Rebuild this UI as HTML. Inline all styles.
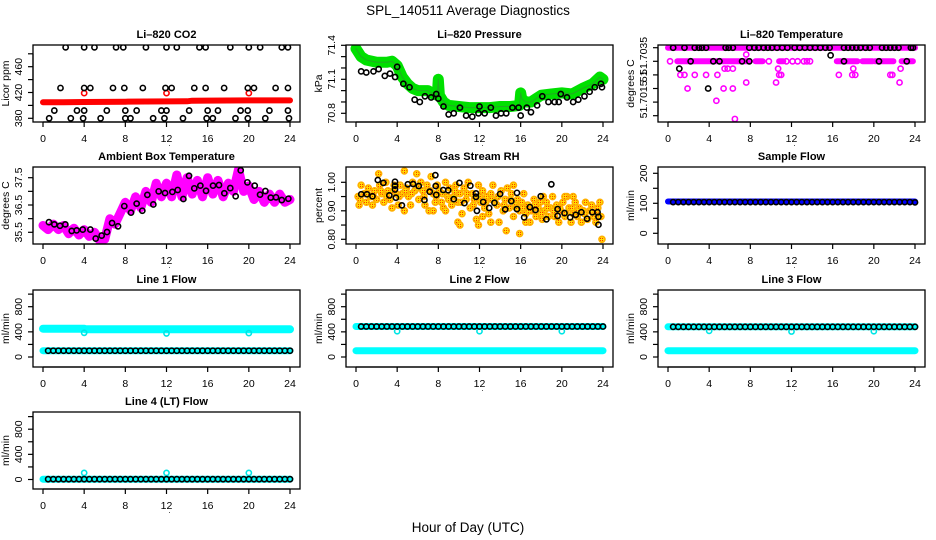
<!DOCTYPE html>
<html><head><meta charset="utf-8"><title>SPL_140511 Average Diagnostics</title>
<style>
html,body{margin:0;padding:0;background:#fff;}
svg{display:block;font-family:"Liberation Sans",Arial,sans-serif;}
</style></head>
<body>
<svg id="chart" xmlns="http://www.w3.org/2000/svg" width="936" height="540" viewBox="0 0 936 540">
<defs>
<pattern id="speckle" width="2" height="2" patternUnits="userSpaceOnUse">
<rect width="2" height="2" fill="#ffe000"/><rect width="1" height="1" fill="#ff3000"/>
</pattern>
</defs>
<rect x="0" y="0" width="936" height="540" fill="#fff"/>
<text x="468" y="15" font-size="13.5" text-anchor="middle">SPL_140511  Average Diagnostics</text>
<text x="468" y="532" font-size="13.5" text-anchor="middle">Hour of Day (UTC)</text>
</svg>
<script>
// ---------- DATA ----------
const xTicks = [0,4,8,12,16,20,24];

const co2BlackHours = [2.2,4,5,7.1,7.8,10,12,13,15.2,15.8,18.2,20,21.1,23.2,23.8,
 1.7,4,4.6,6.8,7.9,9.7,11.9,12.5,14.7,15.8,17.6,19.9,20.5,22.6,23.8,
 1.1,3.3,4,6.2,8,9.1,11.5,12,14.2,16,17,19.2,19.9,22,23.8,
 0.6,2.7,3.9,5.6,8,8.5,10.7,11.8,13.6,15.9,16.5,18.7,19.9,21.6,23.9];
const co2BlackVals = [490,490,490,490,490,490,490,490,490,490,490,490,490,490,490,
 427,427,427,427,427,427,427,427,427,427,427,427,427,427,427,
 392,392,392,392,392,392,392,392,392,392,392,392,392,392,392,
 380,380,380,380,380,380,380,380,380,380,380,380,380,380,380];
const co2RedHours = [0,2,4,6,8,10,12,14,14.5,16,18,20,22,24];
const co2RedVals = [405,405,405.3,405.5,405.8,406,406.2,406.4,407.3,407.5,407.6,407.7,407.8,407.8];
const co2OutHours = [4,12,20];
const co2OutVals = [419,419,419];

const presBandHours = [0,0.5,1,2,3,3.5,4,4.5,5,5.5,6,7,7.5,7.9,8,8.1,8.5,9,10,11,12,13,14,15,15.9,16,16.1,16.5,17,17.5,18,19,20,21,22,23,23.7,24];
const presBandVals = [71.37,71.3,71.27,71.25,71.25,71.26,71.22,71.12,71.06,71.02,71.0,71.0,70.97,70.96,71.1,70.96,70.9,70.87,70.86,70.85,70.85,70.85,70.86,70.86,70.87,70.98,70.93,70.9,70.9,70.93,70.96,70.97,70.98,70.97,71.02,71.06,71.12,71.1];
const presBlackHours = [0.5,1,1.7,2.2,2.8,3.3,3.8,4,4.6,5.2,5.7,6.2,6.7,7.3,7.8,8,8.5,9,9.5,10.1,10.7,11.3,11.9,12,12.5,13.1,13.6,14.1,14.6,15.2,15.8,16,16.6,17,17.6,18.1,18.7,19.3,19.7,19.9,20.5,21.1,21.6,22.2,22.7,23.2,23.8,23.9];
const presBlackVals = [71.17,71.16,71.17,71.19,71.13,71.15,71.12,71.21,71.06,71.03,70.92,70.9,70.95,70.94,70.97,70.93,70.86,70.79,70.8,70.85,70.78,70.77,70.8,70.86,70.8,70.85,70.78,70.8,70.8,70.85,70.85,70.78,70.85,70.81,70.87,70.95,70.9,70.9,70.9,70.97,70.94,70.9,70.92,70.95,70.99,71.03,71.06,71.03];

const tempBandStart = [0,0.9,8.5,10.8,16.4,18.9,20.1,22.7];
const tempBandEnd = [24,7.9,9.2,11.2,18.4,19.9,21.9,23.8];
const tempBandVals = [51.7035,51.7030,51.7030,51.7030,51.7030,51.7030,51.7030,51.7030];
const tempPinkHours = [0.2,9.8,11.5,12.1,12.6,13.2,13.5,13.8,7.6,1.2,1.6,2.6,3.7,4.8,5.5,5.8,6.3,1.9,5.4,6.3,7.6,4.7,6.5,10.5,10.7,10.8,11,16.6,17.9,18,18.2,21.6,21.8,22.5,22.6];
const tempPinkVals = [51.7030,51.7030,51.7030,51.7030,51.7030,51.7030,51.7030,51.7030,51.70325,51.7025,51.7025,51.7025,51.7025,51.7025,51.70273,51.70273,51.70273,51.7020,51.7020,51.7020,51.70222,51.70155,51.70088,51.70222,51.70273,51.7025,51.7025,51.7025,51.7025,51.70273,51.7025,51.7025,51.7025,51.70222,51.70273];
const tempBlackHours = [0.5,1.6,2.6,3.0,3.3,3.7,5.6,5.9,6.3,7.9,8.4,8.8,9.3,9.7,10.1,10.6,11.1,11.6,12.3,12.8,13.3,13.8,14.3,14.8,15.3,15.7,17.1,17.5,17.9,18.3,18.7,19.2,19.6,20.8,21.2,21.6,22,22.4,23.6,23.8,2.2,4.4,5.0,7.2,7.9,17.1,20.5,23.2,1.1,3.9,15.8];
const tempBlackVals = [51.7035,51.7035,51.7035,51.7035,51.7035,51.7035,51.7035,51.7035,51.7035,51.7035,51.7035,51.7035,51.7035,51.7035,51.7035,51.7035,51.7035,51.7035,51.7035,51.7035,51.7035,51.7035,51.7035,51.7035,51.7035,51.7035,51.7035,51.7035,51.7035,51.7035,51.7035,51.7035,51.7035,51.7035,51.7035,51.7035,51.7035,51.7035,51.7035,51.7035,51.7030,51.7030,51.7030,51.7030,51.7030,51.7030,51.7030,51.7030,51.70273,51.7020,51.70322];

const ambBandHours = [0,0.5,1,1.5,2,2.5,3,3.5,4,4.5,5,5.5,6,6.5,7,7.5,8,8.5,9,9.5,10,10.5,11,11.5,12,12.5,13,13.5,14,14.5,15,15.5,16,16.5,17,17.5,18,18.5,19,19.5,20,20.5,21,21.5,22,22.5,23,23.5,24];
const ambBandVals = [35.75,35.6,35.8,35.6,35.75,35.45,35.65,35.4,35.6,35.35,35.5,35.2,35.25,36.0,35.8,36.2,36.6,36.3,36.8,36.4,37.0,36.6,37.3,36.8,37.3,36.8,37.6,36.8,37.5,36.9,37.4,36.8,37.5,36.9,37.4,36.8,37.3,37.0,37.8,37.0,37.2,36.7,37.0,36.6,36.9,36.6,36.9,36.6,36.7];
const ambBlackHours = [0.58,1.1,1.65,2.17,2.79,3.27,3.86,4.6,5.12,5.7,6.22,6.71,7.29,7.9,8.55,9.1,9.65,10.14,10.72,11.24,11.86,12.57,13.09,13.64,14.19,14.7,15.29,15.84,16.52,17.1,17.62,18.2,18.72,19.21,19.86,20.57,21.09,21.61,22.13,22.64,23.2,23.84];
const ambBlackVals = [35.87,35.79,35.74,35.79,35.55,35.57,35.6,35.6,35.27,35.38,35.51,35.84,35.72,36.46,36.22,36.55,36.29,36.87,36.52,37.0,36.94,36.98,37.05,36.72,37.57,37.11,37.21,37.02,37.21,37.23,36.93,37.12,36.82,37.77,37.33,37.21,36.88,37.01,36.77,36.78,36.68,36.73];

const rhCloudHours = [0.2,0.3,0.5,0.8,1.0,1.2,1.4,1.6,1.8,2.0,2.2,2.3,2.5,2.7,2.9,3.1,3.3,3.5,3.7,3.9,4.1,4.3,4.5,4.7,4.9,5.1,5.3,5.5,5.7,5.9,6.1,6.3,6.5,6.7,6.9,7.1,7.3,7.5,7.7,7.9,8.1,8.3,8.5,8.7,8.9,9.1,9.3,9.5,9.7,9.9,10.1,10.3,10.5,10.7,10.9,11.1,11.3,11.5,11.7,11.9,12.1,12.3,12.5,12.7,12.9,13.1,13.3,13.5,13.7,13.9,14.1,14.3,14.5,14.7,14.9,15.1,15.3,15.5,15.7,15.9,16.1,16.3,16.5,16.7,16.9,17.1,17.3,17.5,17.7,17.9,18.1,18.3,18.5,18.7,18.9,19.1,19.3,19.5,19.7,19.9,20.1,20.3,20.5,20.7,20.9,21.1,21.3,21.5,21.7,21.9,22.1,22.3,22.5,22.7,22.9,23.1,23.3,23.5,23.7,23.9,9.9,10.1,11.9,13.1,14.6,15.9,16.5,4.7,7.5,8.7,12.3,15.3,18.2,20.3,21.1,
 0.4,1.1,1.7,2.4,3.0,3.6,4.2,4.8,5.4,6.0,6.6,7.2,7.8,8.4,9.0,9.6,10.2,10.8,11.4,12.0,12.6,13.2,13.8,14.4,15.0,15.6,16.2,16.8,17.4,18.0,18.6,19.2,19.8,20.4,21.0,21.6,22.2,22.8,23.4,23.8];
const rhCloudVals = [0.95,0.92,0.99,0.96,0.93,0.98,0.95,0.92,0.97,0.94,1.03,0.99,0.96,0.93,1.0,0.97,0.94,0.91,0.99,0.96,0.92,0.99,0.96,1.04,0.98,0.95,0.92,1.0,0.97,1.03,0.94,1.0,0.97,0.92,0.99,0.90,1.02,0.96,0.93,0.99,0.97,0.93,0.91,1.0,0.95,0.98,0.92,0.95,0.99,0.93,0.96,0.89,0.98,0.94,1.0,0.91,0.96,0.94,0.87,0.99,0.93,0.97,0.91,0.95,0.89,0.96,0.99,0.93,0.92,0.86,0.97,0.90,0.94,0.98,0.91,0.96,0.88,0.92,0.94,0.90,0.93,0.96,0.89,0.92,0.86,0.90,0.94,0.88,0.91,0.93,0.87,0.90,0.93,0.88,0.91,0.95,0.88,0.92,0.86,0.90,0.93,0.88,0.95,0.91,0.86,0.89,0.93,0.88,0.91,0.86,0.90,0.93,0.87,0.90,0.92,0.88,0.86,0.91,0.93,0.80,0.86,0.85,0.85,0.86,0.83,0.82,0.86,0.90,0.90,0.90,0.88,0.99,0.95,0.95,0.95,
 0.94,0.96,0.95,0.97,0.95,0.97,0.95,0.97,0.96,0.98,0.95,0.97,0.95,0.96,0.94,0.97,0.93,0.96,0.92,0.95,0.93,0.94,0.95,0.92,0.94,0.91,0.91,0.90,0.92,0.89,0.91,0.90,0.91,0.89,0.91,0.90,0.89,0.90,0.89,0.88];
const rhBlackHours = [0.51,1.06,1.6,2.12,2.66,3.24,3.79,3.79,3.79,3.88,4.46,5.04,5.55,6.1,6.65,7.16,7.71,7.74,7.8,8.48,8.96,9.5,10.05,10.53,11.11,11.66,11.66,11.75,12.36,12.94,13.45,14.0,14.5,15.09,15.64,15.64,16.34,16.89,17.44,17.95,18.5,18.98,19.59,19.59,20.26,20.81,21.35,21.9,22.45,22.96,23.47,23.56,23.56];
const rhBlackVals = [0.958,0.958,0.951,1.008,0.998,0.954,1.002,0.988,0.975,0.946,0.919,0.993,0.994,0.987,0.938,0.967,1.025,0.987,0.956,0.973,0.972,0.941,0.998,0.927,0.988,0.961,0.949,0.90,0.931,0.91,0.928,0.959,0.905,0.934,0.963,0.906,0.877,0.913,0.903,0.951,0.87,0.993,0.906,0.882,0.892,0.877,0.886,0.895,0.872,0.895,0.895,0.879,0.851];

const flowHours = [0.5,1,1.5,2,2.5,3,3.5,4,4.5,5,5.5,6,6.5,7,7.5,8,8.5,9,9.5,10,10.5,11,11.5,12,12.5,13,13.5,14,14.5,15,15.5,16,16.5,17,17.5,18,18.5,19,19.5,20,20.5,21,21.5,22,22.5,23,23.5,24];
const sampleBandHours = [0,24];
const sampleBandVals = [106,106];
const sampleBlackVals = [104,104,104,104,104,104,104,104,104,104,104,104,104,104,104,104,104,104,104,104,104,104,104,104,104,104,104,104,104,104,104,104,104,104,104,104,104,104,104,104,104,104,104,104,104,104,104,103];

const line1CyanHours = [0,4,4.1,24];
const line1CyanVals = [450,450,440,440];
const line1LowCyanHours = [0,24];
const line1LowCyanVals = [100,100];
const line1BlackVals = [100,100,100,100,100,100,100,100,100,100,100,100,100,100,100,100,100,100,100,100,100,100,100,100,100,100,100,100,100,100,100,100,100,100,100,100,100,100,100,100,100,100,100,100,100,100,100,100];
const line1OutHours = [4,12,20];
const line1OutVals = [385,375,380];

const line2HighCyanHours = [0,24];
const line2HighCyanVals = [485,485];
const line2LowCyanHours = [0,24];
const line2LowCyanVals = [100,100];
const line2BlackVals = [485,485,485,485,485,485,485,485,485,485,485,485,485,485,485,485,485,485,485,485,485,485,485,485,485,485,485,485,485,485,485,485,485,485,485,485,485,485,485,485,485,485,485,485,485,485,485,485];
const line2OutHours = [4,12,20];
const line2OutVals = [410,410,410];

const line3HighCyanHours = [0,24];
const line3HighCyanVals = [480,480];
const line3LowCyanHours = [0,24];
const line3LowCyanVals = [100,100];
const line3BlackVals = [480,480,480,480,480,480,480,480,480,480,480,480,480,480,480,480,480,480,480,480,480,480,480,480,480,480,480,480,480,480,480,480,480,480,480,480,480,480,480,480,480,480,480,480,480,480,480,480];
const line3OutHours = [4,12,20];
const line3OutVals = [415,405,410];

const line4CyanHours = [0,24];
const line4CyanVals = [5,5];
const line4BlackVals = [5,5,5,5,5,5,5,5,5,5,5,5,5,5,5,5,5,5,5,5,5,5,5,5,5,5,5,5,5,5,5,5,5,5,5,5,5,5,5,5,5,5,5,5,5,5,5,5];
const line4OutHours = [4,12,20];
const line4OutVals = [105,105,105];

// ---------- RENDER ----------
const NS = 'http://www.w3.org/2000/svg';
const svg = document.getElementById('chart');
function mk(tag, attrs, parent){
  const e = document.createElementNS(NS, tag);
  for (const k in attrs) e.setAttribute(k, attrs[k]);
  (parent || svg).appendChild(e);
  return e;
}
const colX = [33,346,658];
const rowY = [45,167,290,412];
const BW = 267, BH = 77;
let clipId = 0;

function makePanel(name, col, row, title, ylab, v1, y1, v2, y2, ticks, labels){
  const bx = colX[col], by = rowY[row];
  const g = mk('g', {});
  
  
  const sx = h => bx + 10 + h * (247 / 24);
  const sy = v => by + y1 + (v - v1) * (y2 - y1) / (v2 - v1);
  const cp = mk('clipPath', {id: 'cp' + clipId}, g);
  mk('rect', {x: bx, y: by, width: BW, height: BH}, cp);
  const marks = mk('g', {'clip-path': 'url(#cp' + clipId + ')'}, g);
  
  
  clipId++;
  const box = mk('rect', {x: bx, y: by, width: BW, height: BH, fill: 'none', stroke: '#000', 'stroke-width': 1.3}, g);
  
  
  const tt = mk('text', {x: bx + BW / 2, y: by - 7, 'font-size': 11, 'font-weight': 'bold', 'text-anchor': 'middle'}, g);
  tt.textContent = title;
  
  
  const xa = mk('g', {}, g);
  
  
  mk('line', {x1: sx(0), x2: sx(24), y1: by + BH, y2: by + BH, stroke: '#000', 'stroke-width': 1.2}, xa);
  xTicks.forEach(t => {
    mk('line', {x1: sx(t), x2: sx(t), y1: by + BH, y2: by + BH + 5, stroke: '#000', 'stroke-width': 1.2}, xa);
    const l = mk('text', {x: sx(t), y: by + BH + 20, 'font-size': 10.5, 'text-anchor': 'middle'}, xa);
    l.textContent = t;
    
    
  });
  const dot = mk('text', {x: sx(12) + 3, y: by + BH + 24, 'font-size': 8, 'text-anchor': 'middle'}, xa);
  dot.textContent = '.';
  const ya = mk('g', {}, g);
  
  
  mk('line', {x1: bx, x2: bx, y1: sy(ticks[0]), y2: sy(ticks[ticks.length - 1]), stroke: '#000', 'stroke-width': 1.2}, ya);
  ticks.forEach(t => {
    mk('line', {x1: bx - 5, x2: bx, y1: sy(t), y2: sy(t), stroke: '#000', 'stroke-width': 1.2}, ya);
  });
  labels.forEach(lb => {
    const yy = sy(lb[0]);
    const l = mk('text', {x: bx - 11, y: yy, 'font-size': 10.5, 'text-anchor': 'middle', transform: 'rotate(-90 ' + (bx - 11) + ' ' + yy + ')'}, ya);
    l.textContent = lb[1];
    
    
  });
  const yt = by + BH / 2;
  const yl = mk('text', {x: bx - 24, y: yt, 'font-size': 10.5, 'text-anchor': 'middle', transform: 'rotate(-90 ' + (bx - 24) + ' ' + yt + ')'}, g);
  yl.textContent = ylab;
  
  
  return {sx, sy, marks};
}

function points(p, hours, vals, stroke, name, r, sw, fill){
  hours.forEach((h, i) => {
    const c = mk('circle', {cx: p.sx(h), cy: p.sy(vals[i]), r: r || 2.6, fill: fill || 'none', stroke: stroke, 'stroke-width': sw || 1.6}, p.marks);
    
    
  });
}
function band(p, hours, vals, color, width, name){
  const d = hours.map((h, i) => (i ? 'L' : 'M') + p.sx(h).toFixed(1) + ' ' + p.sy(vals[i]).toFixed(1)).join(' ');
  const e = mk('path', {d: d, fill: 'none', stroke: color, 'stroke-width': width, 'stroke-linecap': 'round', 'stroke-linejoin': 'round'}, p.marks);
  
  
}

const p1 = makePanel('co2', 0, 0, 'Li\u2013820 CO2', 'Licor ppm', 380, 73.3, 460, 21.7,
  [380,400,420,440,460,480], [[380,'380'],[420,'420'],[460,'460']]);
band(p1, co2RedHours, co2RedVals, '#ff0000', 6, 'co2-red-series');
points(p1, co2OutHours, co2OutVals, '#ff0000', 'co2-red-outlier');
points(p1, co2BlackHours, co2BlackVals, '#000', 'co2-black-point');

const p2 = makePanel('pressure', 1, 0, 'Li\u2013820 Pressure', 'kPa', 70.8, 68.3, 71.1, 34.3,
  [70.8,70.9,71.0,71.1,71.2,71.3,71.4], [[70.8,'70.8'],[71.1,'71.1'],[71.4,'71.4']]);
band(p2, presBandHours, presBandVals, '#00e000', 11, 'pressure-green-series');
band(p2, presBandHours, presBandVals, '#22aa22', 1, 'pressure-green-core');
points(p2, presBlackHours, presBlackVals, '#000', 'pressure-black-point');

const p3 = makePanel('temperature', 2, 0, 'Li\u2013820 Temperature', 'degrees C', 51.7010, 70.7, 51.7035, 2.7,
  [51.7010,51.7015,51.7020,51.7025,51.7030,51.7035],
  [[51.70320,'51.7035'],[51.70245,'51'],[51.70160,'51.7015']]);
tempBandStart.forEach((s, i) => band(p3, [s, tempBandEnd[i]], [tempBandVals[i], tempBandVals[i]], '#ff00ff', 6, 'temperature-pink-band'));
points(p3, tempPinkHours, tempPinkVals, '#ff00ff', 'temperature-pink-point');
points(p3, tempBlackHours, tempBlackVals, '#000', 'temperature-black-point');

const p4 = makePanel('ambient', 0, 1, 'Ambient Box Temperature', 'degrees C', 35.5, 65.3, 37.5, 10.7,
  [35.5,36,36.5,37,37.5], [[35.5,'35.5'],[36.5,'36.5'],[37.5,'37.5']]);
band(p4, ambBandHours, ambBandVals, '#ff00ff', 9, 'ambient-pink-series');
points(p4, ambBlackHours, ambBlackVals, '#000', 'ambient-black-point');

const p5 = makePanel('rh', 1, 1, 'Gas Stream RH', 'percent', 0.8, 72.3, 1.0, 15.3,
  [0.80,0.85,0.90,0.95,1.00], [[0.80,'0.80'],[0.90,'0.90'],[1.00,'1.00']]);
points(p5, rhCloudHours, rhCloudVals, '#ffb000', 'rh-orange-point', 3, 1.6, 'url(#speckle)');
points(p5, rhBlackHours, rhBlackVals, '#000', 'rh-black-point');

const p6 = makePanel('sample-flow', 2, 1, 'Sample Flow', 'ml/min', 0, 66.3, 200, 6.3,
  [0,50,100,150,200], [[0,'0'],[100,'100'],[200,'200']]);
band(p6, sampleBandHours, sampleBandVals, '#0000ff', 6, 'sample-flow-blue-series');
points(p6, flowHours, sampleBlackVals, '#000', 'sample-flow-black-point');

const flowTicks = [0,200,400,600,800,1000];
const flowLabels = [[0,'0'],[400,'400'],[800,'800']];

const p7 = makePanel('line1-flow', 0, 2, 'Line 1 Flow', 'ml/min', 0, 67, 800, 16.7, flowTicks, flowLabels);
band(p7, line1CyanHours, line1CyanVals, '#00ffff', 8, 'line1-cyan-high');
band(p7, line1LowCyanHours, line1LowCyanVals, '#00ffff', 7, 'line1-cyan-low');
points(p7, line1OutHours, line1OutVals, '#00e5e5', 'line1-cyan-outlier');
points(p7, flowHours, line1BlackVals, '#000', 'line1-black-point');

const p8 = makePanel('line2-flow', 1, 2, 'Line 2 Flow', 'ml/min', 0, 67, 800, 16.7, flowTicks, flowLabels);
band(p8, line2HighCyanHours, line2HighCyanVals, '#00ffff', 7, 'line2-cyan-high');
band(p8, line2LowCyanHours, line2LowCyanVals, '#00ffff', 7, 'line2-cyan-low');
points(p8, line2OutHours, line2OutVals, '#00e5e5', 'line2-cyan-outlier');
points(p8, flowHours, line2BlackVals, '#000', 'line2-black-point');

const p9 = makePanel('line3-flow', 2, 2, 'Line 3 Flow', 'ml/min', 0, 67, 800, 16.7, flowTicks, flowLabels);
band(p9, line3HighCyanHours, line3HighCyanVals, '#00ffff', 7, 'line3-cyan-high');
band(p9, line3LowCyanHours, line3LowCyanVals, '#00ffff', 7, 'line3-cyan-low');
points(p9, line3OutHours, line3OutVals, '#00e5e5', 'line3-cyan-outlier');
points(p9, flowHours, line3BlackVals, '#000', 'line3-black-point');

const p10 = makePanel('line4-flow', 0, 3, 'Line 4 (LT) Flow', 'ml/min', 0, 67.5, 800, 17.2, flowTicks, flowLabels);
band(p10, line4CyanHours, line4CyanVals, '#00ffff', 7, 'line4-cyan-series');
points(p10, line4OutHours, line4OutVals, '#00e5e5', 'line4-cyan-outlier');
points(p10, flowHours, line4BlackVals, '#000', 'line4-black-point');
</script>
</body></html>
